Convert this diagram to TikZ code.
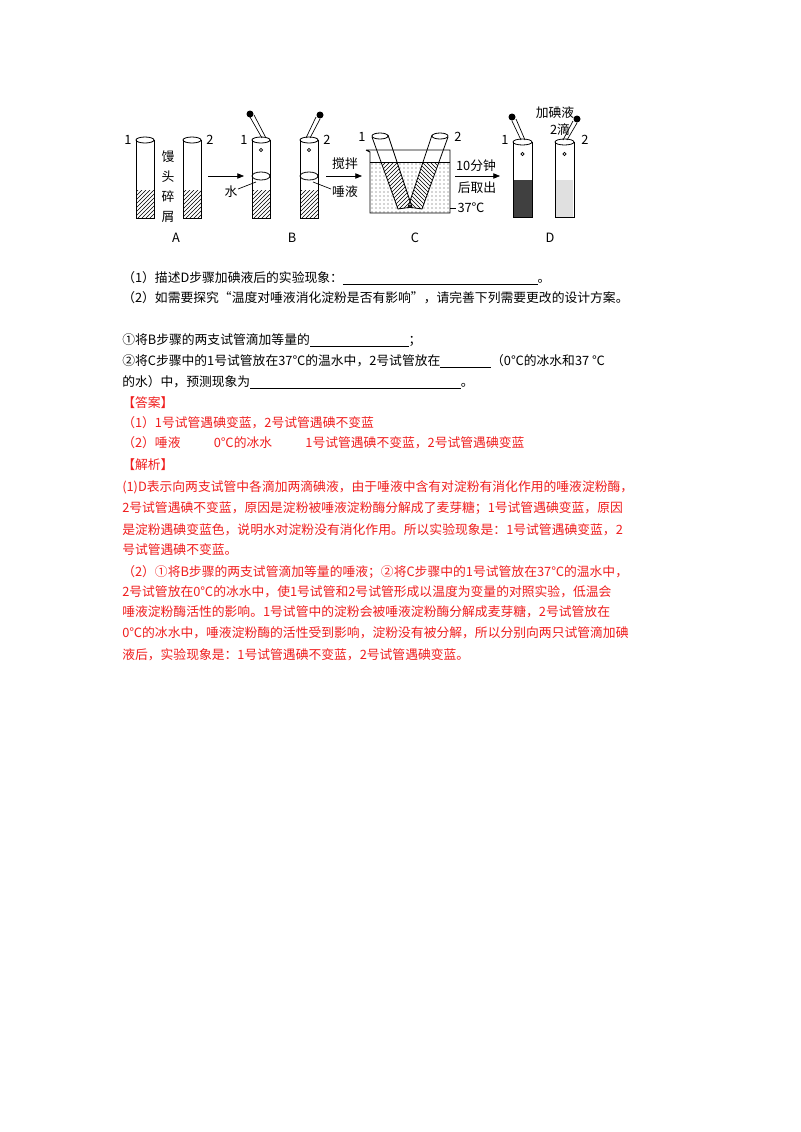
\documentclass[tikz,border=0pt]{standalone}
\usepackage{fontspec}
\setmainfont{Noto Sans CJK SC}
\usetikzlibrary{patterns,arrows.meta}
\definecolor{ans}{RGB}{240,30,30}
\newcommand{\blank}[1]{\rule[-2pt]{#1pt}{0.5pt}}
\begin{document}
\begin{tikzpicture}[x=0.75pt,y=-0.75pt,
  txt/.style={anchor=west,inner sep=0,font=\fontsize{9.6}{11}\selectfont},
  rtxt/.style={txt,text=ans},
  lab/.style={inner sep=0,font=\fontsize{9.6}{11}\selectfont},
  tube/.style={draw,line width=0.6pt},
  arr/.style={-{Triangle[length=5pt,width=4pt]},line width=0.5pt}]
\fill[white] (0,0) rectangle (800,1132);
\useasboundingbox (0,0) rectangle (800,1132);
% --- A
\foreach \xa/\nm in {136/a1,183/a2}{
  \fill[pattern=north east lines] (\xa,190) rectangle (\xa+18,218);
  \draw[tube] (\xa,140) -- (\xa,218) -- (\xa+18,218) -- (\xa+18,140);
  \draw[tube] (\xa+9,140) ellipse (9 and 3);
}
\node[lab] (n1a) at (128,140) {1};
\node[lab] (n2a) at (210,140) {2};
\node[lab,align=center,font=\fontsize{9.6}{15}\selectfont] (mt) at (168,187) {馒\\头\\碎\\屑};
\node[lab] (A) at (176,238) {A};
\coordinate (ar1s) at (208,176); \coordinate (ar1e) at (244,176);
\draw[arr] (ar1s) -- (ar1e);
% --- B
\foreach \xa in {252,300}{
  \fill[pattern=north east lines] (\xa,190) rectangle (\xa+18,218);
  \draw[tube] (\xa,140) -- (\xa,218) -- (\xa+18,218) -- (\xa+18,140);
  \draw[tube] (\xa+9,140) ellipse (9 and 3);
  \draw[tube] (\xa+9,176) ellipse (9 and 4);
  \draw[line width=0.5pt] (\xa+9,150) circle (1.6);
}
\draw[line width=0.5pt] (262,138) -- (250,117) (266,138) -- (254,115);
\fill (250,114) circle (3.5);
\draw[line width=0.5pt] (306,138) -- (316,117) (310,138) -- (320,119);
\fill (320,115) circle (3.5);
\node[lab] (n1b) at (244,140) {1};
\node[lab] (n2b) at (327,140) {2};
\node[lab] (shui) at (231,192) {水};
\draw[line width=0.5pt] (238,189) -- (256,182);
\node[lab] (ty) at (345,192) {唾液};
\draw[line width=0.5pt] (331,189) -- (313,182);
\node[lab] (B) at (292,238) {B};
\coordinate (ar2s) at (326,176); \coordinate (ar2e) at (362,176);
\draw[arr] (ar2s) -- (ar2e);
\node[lab] (jb) at (345,164) {搅拌};
% --- C
\fill[pattern=dots,pattern color=black!70] (371,162) rectangle (449,212);
\begin{scope}
\clip (371,150) rectangle (449,212);
\fill[white] (372,137) -- (388,135) -- (412,207) -- (398,209) -- cycle;
\fill[white] (448,137) -- (432,135) -- (408,207) -- (422,209) -- cycle;
\begin{scope}
\clip (371,163) rectangle (449,212);
\fill[pattern=north east lines] (372,137) -- (388,135) -- (412,207) -- (398,209) -- cycle;
\fill[pattern=north west lines] (448,137) -- (432,135) -- (408,207) -- (422,209) -- cycle;
\end{scope}
\end{scope}
\draw[tube] (372,137) -- (398,209) -- (412,207) -- (388,135);
\draw[tube] (380,136) ellipse (8 and 3);
\draw[tube] (448,137) -- (422,209) -- (408,207) -- (432,135);
\draw[tube] (440,136) ellipse (8 and 3);
\draw[line width=0.7pt] (366,150) -- (370,152) -- (370,213) -- (450,213) -- (450,150) -- (366,150);
\draw[line width=0.5pt] (370,162) -- (450,162);
\node[lab] (n1c) at (362,137) {1};
\node[lab] (n2c) at (458,137) {2};
\node[lab] (t37) at (471,208) {37℃};
\draw[line width=0.5pt] (450,208) -- (456,208);
\node[lab] (C) at (415,238) {C};
\coordinate (ar3s) at (455,176); \coordinate (ar3e) at (500,176);
\draw[arr] (ar3s) -- (ar3e);
\node[lab] (tm) at (476,166) {10分钟};
\node[lab] (hq) at (477,188) {后取出};
% --- D
\fill[black!75] (513,180) rectangle (532,217);
\fill[black!12] (555,180) rectangle (573,217);
\foreach \xa in {513,555}{
  \draw[tube] (\xa,142) -- (\xa,217) -- (\xa+19,217) -- (\xa+19,142);
  \draw[tube] (\xa+9.5,142) ellipse (9.5 and 3);
  \draw[line width=0.5pt] (\xa+9.5,154) circle (1.6);
}
\draw[line width=0.5pt] (521,140) -- (512,121) (525,140) -- (516,119);
\fill (512,117) circle (3.5);
\draw[line width=0.5pt] (563,140) -- (573,121) (567,140) -- (577,123);
\fill (577,119) circle (3.5);
\node[lab] (n1d) at (505,140) {1};
\node[lab] (n2d) at (585,140) {2};
\node[lab] (jd) at (555,113) {加碘液};
\node[lab] (ld) at (560,130) {2滴};
\node[lab] (D) at (550,238) {D};
% --- text
\node[txt] (q1) at (122,278) {（1）描述D步骤加碘液后的实验现象：\blank{146}。};
\node[txt] (q2) at (122,298) {（2）如需要探究“温度对唾液消化淀粉是否有影响”，请完善下列需要更改的设计方案。};
\node[txt] (q3) at (122,340) {①将B步骤的两支试管滴加等量的\blank{74}；};
\node[txt] (q4) at (122,361) {②将C步骤中的1号试管放在37℃的温水中，2号试管放在\blank{38}（0℃的冰水和37 ℃};
\node[txt] (q5) at (122,382) {的水）中，预测现象为\blank{158}。};
\node[rtxt] (a0) at (122,403) {【答案】};
\node[rtxt] (a1) at (122,423) {（1）1号试管遇碘变蓝，2号试管遇碘不变蓝};
\node[rtxt] (a2) at (122,443) {（2）唾液\hspace{2.6em}0℃的冰水\hspace{2.6em}1号试管遇碘不变蓝，2号试管遇碘变蓝};
\node[rtxt] (j0) at (122,465) {【解析】};
\node[rtxt] (j1) at (122,487) {(1)D表示向两支试管中各滴加两滴碘液，由于唾液中含有对淀粉有消化作用的唾液淀粉酶，};
\node[rtxt] (j2) at (122,508) {2号试管遇碘不变蓝，原因是淀粉被唾液淀粉酶分解成了麦芽糖；1号试管遇碘变蓝，原因};
\node[rtxt] (j3) at (122,530) {是淀粉遇碘变蓝色，说明水对淀粉没有消化作用。所以实验现象是：1号试管遇碘变蓝，2};
\node[rtxt] (j4) at (122,550) {号试管遇碘不变蓝。};
\node[rtxt] (j5) at (122,572) {（2）①将B步骤的两支试管滴加等量的唾液；②将C步骤中的1号试管放在37℃的温水中，};
\node[rtxt] (j6) at (122,592) {2号试管放在0℃的冰水中，使1号试管和2号试管形成以温度为变量的对照实验，低温会};
\node[rtxt] (j7) at (122,612) {唾液淀粉酶活性的影响。1号试管中的淀粉会被唾液淀粉酶分解成麦芽糖，2号试管放在};
\node[rtxt] (j8) at (122,633) {0℃的冰水中，唾液淀粉酶的活性受到影响，淀粉没有被分解，所以分别向两只试管滴加碘};
\node[rtxt] (j9) at (122,655) {液后，实验现象是：1号试管遇碘不变蓝，2号试管遇碘变蓝。};
\end{tikzpicture}
\end{document}
